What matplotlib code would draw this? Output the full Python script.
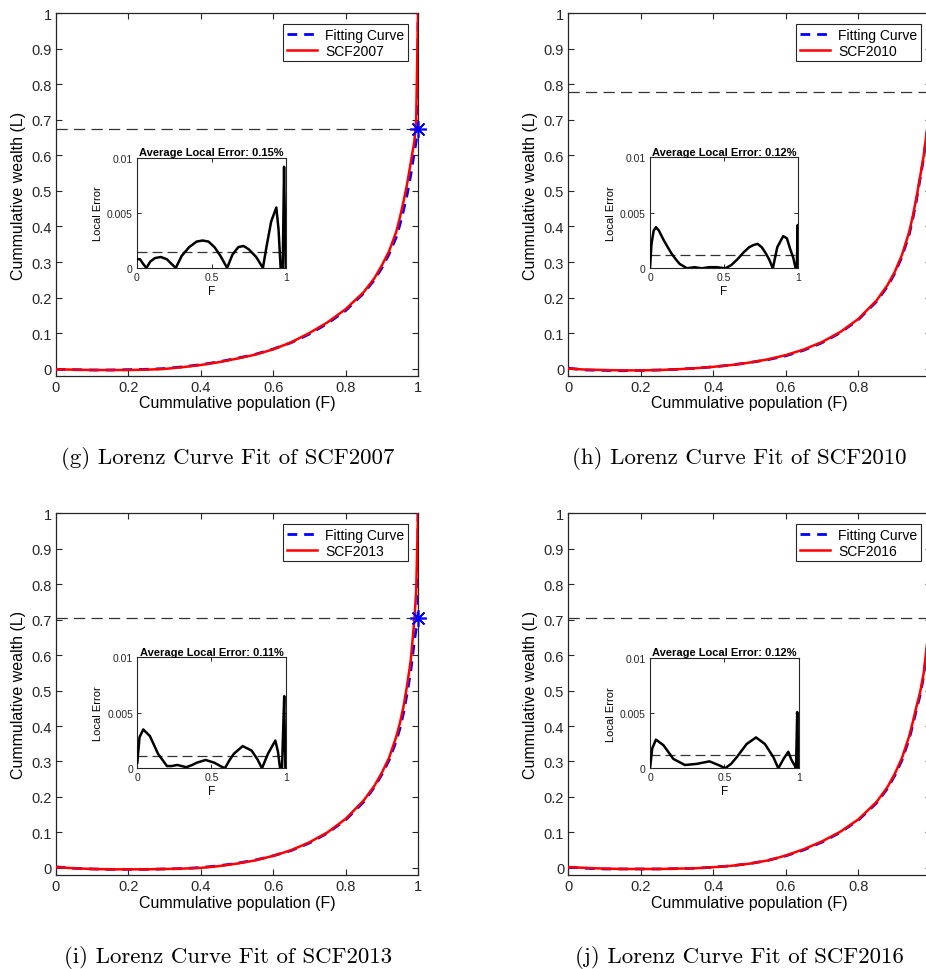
import matplotlib
matplotlib.use("Agg")
import matplotlib.pyplot as plt

plt.rcParams['font.family'] = ['Liberation Sans', 'DejaVu Sans']

# ---- main Lorenz curves ----
grid_F = [0, 0.05, 0.1, 0.15, 0.2, 0.25, 0.3, 0.35, 0.4, 0.45, 0.5, 0.55, 0.6,
          0.65, 0.7, 0.75, 0.8, 0.85, 0.88, 0.9, 0.92, 0.94, 0.95, 0.96, 0.97,
          0.98, 0.99, 0.995, 1.0]
fit_F = grid_F + [1.0]

g_data = [-0.002, -0.003, -0.004, -0.004, -0.004, -0.003, -0.001, 0.004, 0.010,
          0.018, 0.028, 0.039, 0.054, 0.074, 0.100, 0.130, 0.167, 0.215, 0.255,
          0.290, 0.330, 0.385, 0.425, 0.470, 0.520, 0.580, 0.640, 0.700, 1.0]
g_fit = [-0.002, -0.003, -0.004, -0.004, -0.003, -0.002, 0.0, 0.005, 0.011,
         0.019, 0.029, 0.040, 0.055, 0.073, 0.097, 0.127, 0.163, 0.212, 0.250,
         0.283, 0.322, 0.370, 0.405, 0.445, 0.490, 0.545, 0.610, 0.640, 0.675, 1.0]

h_data = [0.0, -0.003, -0.004, -0.005, -0.005, -0.004, -0.002, 0.001, 0.005,
          0.010, 0.017, 0.026, 0.038, 0.054, 0.075, 0.103, 0.140, 0.192, 0.235,
          0.272, 0.320, 0.385, 0.430, 0.482, 0.540, 0.600, 0.680, 0.750, 1.0]
h_fit = [0.001, -0.004, -0.005, -0.006, -0.005, -0.004, -0.002, 0.001, 0.005,
         0.010, 0.017, 0.025, 0.036, 0.052, 0.073, 0.101, 0.138, 0.189, 0.231,
         0.268, 0.315, 0.378, 0.423, 0.475, 0.535, 0.595, 0.675, 0.745, 0.78, 1.0]

i_data = [0.002, -0.001, -0.003, -0.004, -0.004, -0.004, -0.003, -0.002, 0.0,
          0.005, 0.012, 0.021, 0.034, 0.050, 0.072, 0.100, 0.138, 0.190, 0.232,
          0.268, 0.310, 0.370, 0.408, 0.455, 0.515, 0.585, 0.700, 0.780, 1.0]
i_fit = [0.003, -0.001, -0.003, -0.004, -0.004, -0.004, -0.003, -0.002, 0.001,
         0.006, 0.013, 0.022, 0.034, 0.049, 0.070, 0.098, 0.135, 0.186, 0.228,
         0.263, 0.303, 0.358, 0.393, 0.437, 0.492, 0.555, 0.640, 0.675, 0.704, 1.0]

j_data = [0.002, 0.0, -0.002, -0.003, -0.003, -0.003, -0.002, -0.001, 0.002,
          0.006, 0.012, 0.021, 0.035, 0.053, 0.075, 0.102, 0.137, 0.186, 0.228,
          0.265, 0.310, 0.372, 0.412, 0.455, 0.495, 0.550, 0.640, 0.720, 1.0]
j_fit = [0.002, -0.001, -0.003, -0.003, -0.003, -0.003, -0.002, -0.001, 0.002,
         0.006, 0.012, 0.021, 0.034, 0.051, 0.073, 0.100, 0.135, 0.183, 0.224,
         0.260, 0.304, 0.364, 0.404, 0.447, 0.487, 0.542, 0.630, 0.700, 0.704, 1.0]

# ---- local error insets ----
g_err_F = [0, 0.02, 0.04, 0.063, 0.09, 0.12, 0.16, 0.2, 0.23, 0.26, 0.3, 0.35,
           0.4, 0.44, 0.48, 0.52, 0.56, 0.605, 0.64, 0.68, 0.715, 0.75, 0.8,
           0.845, 0.87, 0.9, 0.935, 0.95, 0.964, 0.978, 0.987, 0.993, 0.998]
g_err = [0.0008, 0.0008, 0.0004, 0.0, 0.0006, 0.0009, 0.001, 0.0008, 0.0004, 0.0,
         0.0011, 0.0019, 0.0024, 0.0025, 0.0024, 0.0019, 0.0011, 0.0, 0.0012,
         0.0019, 0.002, 0.0017, 0.001, 0.0, 0.002, 0.0042, 0.0055, 0.0035, 0.0,
         0.0, 0.0092, 0.004, 0.0]

h_err_F = [0, 0.01, 0.025, 0.04, 0.06, 0.09, 0.12, 0.147, 0.175, 0.2, 0.25, 0.3,
           0.35, 0.4, 0.45, 0.51, 0.55, 0.59, 0.63, 0.67, 0.7, 0.727, 0.755,
           0.78, 0.805, 0.83, 0.86, 0.9, 0.925, 0.948, 0.967, 0.984, 0.992,
           0.998, 1.0]
h_err = [0, 0.0022, 0.0034, 0.0037, 0.0034, 0.0026, 0.0019, 0.0013, 0.0008,
         0.0004, 0.0, 0.0001, 0.0, 0.0001, 0.0001, 0.0, 0.0003, 0.0008, 0.0014,
         0.0019, 0.0021, 0.0022, 0.0019, 0.0014, 0.0008, 0.0, 0.0019, 0.0029,
         0.0027, 0.0017, 0.001, 0.0, 0.0, 0.0039, 0.0]

i_err_F = [0, 0.015, 0.04, 0.085, 0.14, 0.2, 0.23, 0.27, 0.3, 0.33, 0.37, 0.4,
           0.46, 0.52, 0.56, 0.59, 0.62, 0.65, 0.71, 0.77, 0.81, 0.84, 0.88,
           0.93, 0.948, 0.962, 0.975, 0.99, 0.995, 0.998]
i_err = [0.0005, 0.0028, 0.0035, 0.0029, 0.0013, 0.0002, 0.0002, 0.0003, 0.0002,
         0.0001, 0.0003, 0.0005, 0.00075, 0.0005, 0.0002, 0.0, 0.0007, 0.0013,
         0.002, 0.0016, 0.0008, 0.0, 0.0013, 0.0025, 0.0015, 0.0, 0.0, 0.0065,
         0.002, 0.0]

j_err_F = [0, 0.015, 0.04, 0.09, 0.157, 0.235, 0.314, 0.4, 0.47, 0.505, 0.545,
           0.583, 0.65, 0.713, 0.773, 0.83, 0.863, 0.9, 0.93, 0.95, 0.975, 0.982,
           0.99, 0.998]
j_err = [0, 0.0018, 0.0026, 0.0021, 0.00085, 0.0003, 0.0004, 0.00063, 0.00024,
         0.0, 0.0004, 0.001, 0.0022, 0.0028, 0.0022, 0.001, 0.0, 0.0009, 0.0015,
         0.0008, 0.0002, 0.0, 0.0051, 0.0]

avg_err = [0.0015, 0.0012, 0.0011, 0.0012]
avg_text = ['0.15%', '0.12%', '0.11%', '0.12%']
gini_line = [0.675, 0.778, 0.704, 0.704]
show_star = [True, False, True, False]
years = ['SCF2007', 'SCF2010', 'SCF2013', 'SCF2016']
letters = ['g', 'h', 'i', 'j']

datas = [g_data, h_data, i_data, j_data]
fits = [g_fit, h_fit, i_fit, j_fit]
err_Fs = [g_err_F, h_err_F, i_err_F, j_err_F]
errs = [g_err, h_err, i_err, j_err]

W, H = 926, 970
# pixel boxes: (left, top, right, bottom)
main_px = [(55.7, 14.3, 418, 376.7), (568.3, 14.3, 931, 376.7),
           (55.7, 514.2, 418, 876), (568.3, 514.2, 931, 876)]
inset_px = [(137, 159, 286, 269), (650, 158.3, 798, 269.3),
            (137.3, 658.3, 285.7, 769.3), (650, 659, 798.7, 769.3)]
caption_xy = [(228, 459), (739, 459), (228, 958), (739, 958)]

dark = '#262626'


def rect(box):
    l, t, r, b = box
    return [l / W, 1 - b / H, (r - l) / W, (b - t) / H]


fig = plt.figure(figsize=(W / 100, H / 100), dpi=100)

for k in range(4):
    ax = fig.add_axes(rect(main_px[k]))
    ax.plot(fit_F, fits[k], color='blue', lw=2, ls=(0, (3.5, 2.5)),
            label='Fitting Curve', zorder=3)
    ax.plot(grid_F, datas[k], color='red', lw=1.8, label=years[k], zorder=4)
    ax.axhline(gini_line[k], color='#333333', lw=0.9, ls=(0, (9, 5)), zorder=2)
    if show_star[k]:
        ax.plot([1.0], [gini_line[k]], color='blue', marker=(8, 2, 0), ms=12,
                mew=1.2, clip_on=False, zorder=6)
    ax.set_xlim(0, 1)
    ax.set_ylim(-0.02, 1)
    # the right-hand panels are cropped in the original, so their "1" is hidden
    last = '1' if k % 2 == 0 else ''
    ax.set_xticks([0, 0.2, 0.4, 0.6, 0.8, 1])
    ax.set_xticklabels(['0', '0.2', '0.4', '0.6', '0.8', last])
    ax.set_yticks([i / 10 for i in range(11)])
    ax.set_yticklabels(['0', '0.1', '0.2', '0.3', '0.4', '0.5', '0.6', '0.7',
                        '0.8', '0.9', '1'])
    ax.tick_params(direction='in', top=True, right=True, length=4, width=0.8,
                   labelsize=10.5, colors=dark, pad=3)
    for s in ax.spines.values():
        s.set_color(dark)
        s.set_linewidth(0.9)
    ax.set_xlabel('Cummulative population (F)', fontsize=11.5, color='black',
                  labelpad=1)
    ax.set_ylabel('Cummulative wealth (L)', fontsize=11.5, color='black',
                  labelpad=4)
    l, t, r, b = main_px[k]
    leg = ax.legend(loc='upper right',
                    bbox_to_anchor=(1 - 10 / (r - l), 1 - 11 / (b - t)),
                    borderaxespad=0, fancybox=False, framealpha=1,
                    edgecolor=dark, fontsize=10, handlelength=2.2,
                    borderpad=0.25, labelspacing=0.15, handletextpad=0.6)
    leg.get_frame().set_linewidth(0.8)

    ins = fig.add_axes(rect(inset_px[k]))
    ins.plot(err_Fs[k], errs[k], color='black', lw=1.8, zorder=3)
    ins.axhline(avg_err[k], color='#333333', lw=0.9, ls=(0, (8, 4)), zorder=2)
    ins.set_xlim(0, 1)
    ins.set_ylim(0, 0.01)
    ins.set_xticks([0, 0.5, 1])
    ins.set_xticklabels(['0', '0.5', '1'])
    ins.set_yticks([0, 0.005, 0.01])
    ins.set_yticklabels(['0', '0.005', '0.01'])
    ins.tick_params(direction='in', top=True, right=True, length=3, width=0.7,
                    labelsize=7.5, colors=dark, pad=3)
    for s in ins.spines.values():
        s.set_color(dark)
        s.set_linewidth(0.8)
    ins.set_title('Average Local Error: ' + avg_text[k], fontsize=8,
                  fontweight='bold', pad=2)
    ins.set_xlabel('F', fontsize=8.5, labelpad=2)
    ins.set_ylabel('Local Error', fontsize=8, labelpad=3)

    cx, cy = caption_xy[k]
    fig.text(cx / W, 1 - cy / H,
             '(%s) Lorenz Curve Fit of %s' % (letters[k], years[k]),
             family='cmr10', fontsize=16.5, ha='center', va='center')

fig.savefig('out.png', dpi=100)
